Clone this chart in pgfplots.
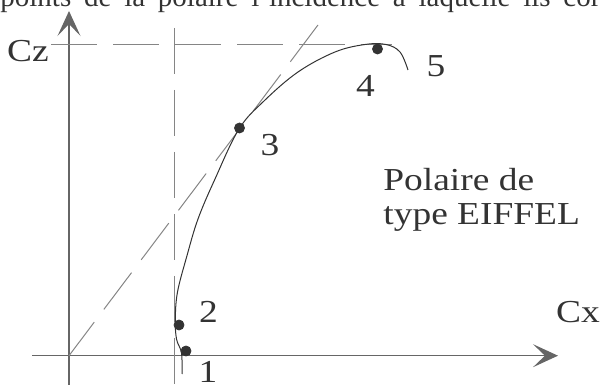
\documentclass[border=0pt]{standalone}
\usepackage{fontspec}
\setmainfont{Liberation Serif}
\newfontfamily\lab{Liberation Serif}[FakeStretch=1.17]
\usepackage{pgfplots}
\pgfplotsset{compat=1.18}
\usetikzlibrary{arrows.meta}
\definecolor{ink}{HTML}{333333}
\definecolor{axgray}{HTML}{666666}
\definecolor{dashgray}{HTML}{858585}
\tikzset{
  tip/.style={-{Stealth[length=12.5pt,width=11.5pt,inset=6pt]}},
  lbl/.style={font=\lab\fontsize{16pt}{19pt}\selectfont, text=ink, inner sep=0pt},
  dsh/.style={dashgray, line width=0.5pt, dash pattern=on 23pt off 8pt},
}

\begin{document}
\begin{tikzpicture}
% one unit = one pixel of the 600x389 figure, y measured upwards
\begin{axis}[
    scale only axis, width=300pt, height=194.5pt,
    xmin=0, xmax=600, ymin=0, ymax=389,
    hide axis, clip=false,
]
% axes
\addplot[axgray, line width=0.6pt, tip] coordinates {(32,33.3) (558,33.3)};
\addplot[axgray, line width=0.6pt, tip] coordinates {(69,4) (69,378)};
% dashed guides
\addplot[dsh] coordinates {(51,344) (392,344)};
\addplot[dsh] coordinates {(174,361) (174,2)};
\addplot[dsh] coordinates {(318,364) (69,33.3)};
% polar curve
\addplot[ink, line width=0.5pt, smooth, tension=0.6] coordinates {
    (182,15) (181.5,36) (176.5,50) (175.3,70) (177.5,97) (186.7,132.3)
    (198,170) (215,210) (239,260) (264,288) (298,317) (335,337)
    (365,344.5) (386,344.5) (400,337) (408,319)
};
% numbered points
\addplot[only marks, mark=*, mark size=2.5pt, ink] coordinates {
    (186,38) (179,64) (239.5,261) (377.5,340)
};
% labels
\node[lbl] at (axis cs:208,17) {1};
\node[lbl] at (axis cs:208.5,77) {2};
\node[lbl] at (axis cs:270,243.5) {3};
\node[lbl] at (axis cs:365.5,303) {4};
\node[lbl] at (axis cs:436,322.5) {5};
\node[lbl] at (axis cs:28,337.5) {Cz};
\node[lbl] at (axis cs:578,77) {Cx};
\node[lbl, anchor=base west] at (axis cs:383,198) {Polaire de};
\node[lbl, anchor=base west] at (axis cs:383,164) {type EIFFEL};
% body text cut by the top edge
\node[anchor=base west, inner sep=0pt, text=ink,
      font=\fontsize{14.5pt}{17pt}\selectfont] at (axis cs:0,382)
    {\makebox[300pt][s]{points de la polaire l'incidence à laquelle ils cor}};
\end{axis}
\pgfresetboundingbox
\path[use as bounding box] (current axis.south west) rectangle (current axis.north east);
\end{tikzpicture}
\end{document}
